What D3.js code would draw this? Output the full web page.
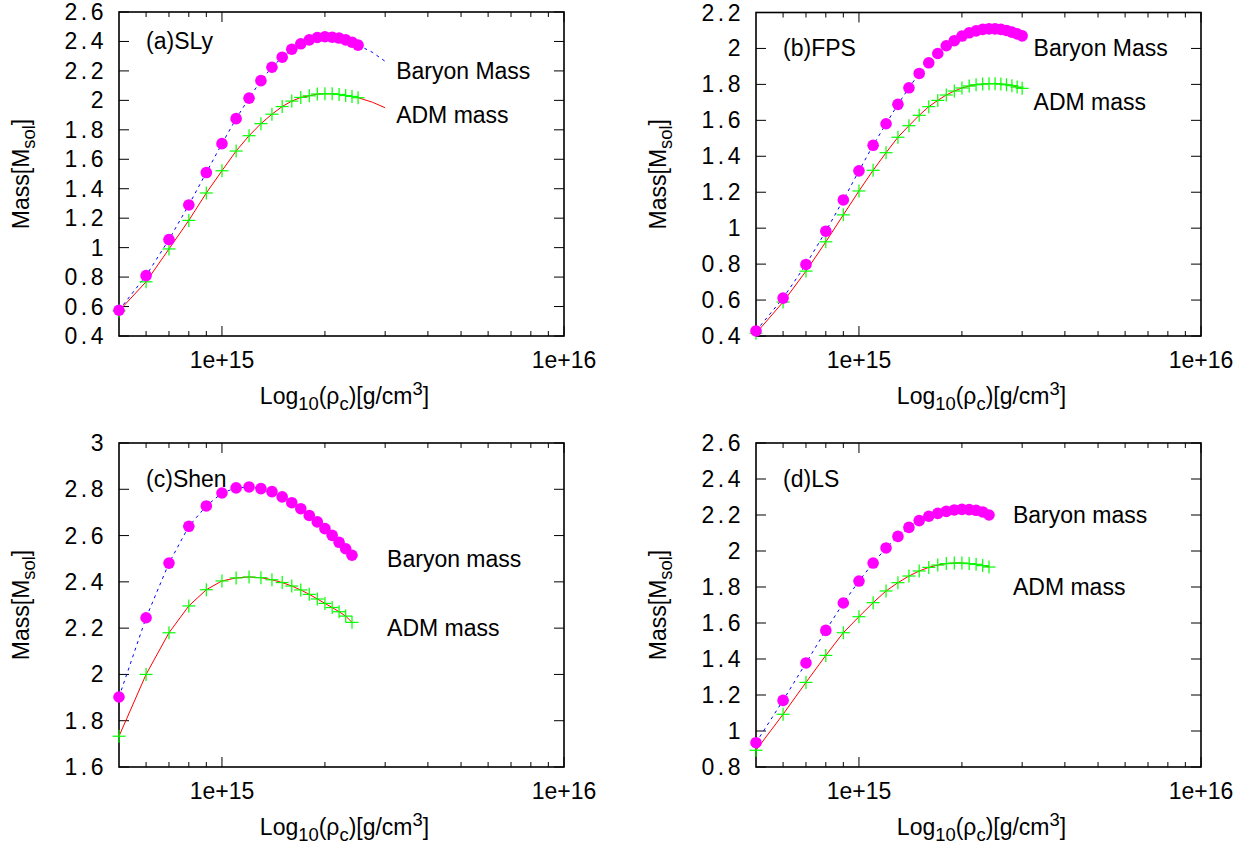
<!DOCTYPE html>
<html><head><meta charset="utf-8">
<script src="https://cdn.jsdelivr.net/npm/d3@7"></script>
<style>
body{margin:0;background:#fff}
svg{display:block}
text{font-family:"Liberation Sans",Arial,Helvetica,sans-serif;fill:#000}
</style>
</head><body>
<svg id="chart" width="1248" height="848"></svg>
<script>
// ---- data (central density in g/cm^3, masses in solar masses) ----
const rhoSLy = [5e14,6e14,7e14,8e14,9e14,1.0e15,1.1e15,1.2e15,1.3e15,1.4e15,1.5e15,1.6e15,1.7e15,1.8e15,1.9e15,2.0e15,2.1e15,2.2e15,2.3e15,2.4e15,2.5e15];
const baryonSLy = [0.575,0.81,1.055,1.29,1.51,1.706,1.876,2.015,2.134,2.225,2.293,2.347,2.384,2.411,2.427,2.432,2.429,2.423,2.411,2.395,2.375];
const admSLy = [0.57,0.768,0.991,1.185,1.371,1.522,1.656,1.76,1.842,1.906,1.958,1.995,2.02,2.031,2.043,2.045,2.045,2.04,2.033,2.027,2.018];
const rhoSLyTail = [2.75e15,3.0e15];
const baryonSLyTail = [2.327,2.265];
const admSLyTail = [1.988,1.95];

const rhoFPS = [5e14,6e14,7e14,8e14,9e14,1.0e15,1.1e15,1.2e15,1.3e15,1.4e15,1.5e15,1.6e15,1.7e15,1.8e15,1.9e15,2.0e15,2.1e15,2.2e15,2.3e15,2.4e15,2.5e15,2.6e15,2.7e15,2.8e15,2.9e15,3.0e15];
const baryonFPS = [0.428,0.611,0.798,0.983,1.157,1.319,1.461,1.581,1.689,1.781,1.861,1.92,1.972,2.015,2.043,2.069,2.087,2.098,2.106,2.109,2.109,2.106,2.1,2.091,2.081,2.07];
const admFPS = [0.415,0.589,0.761,0.924,1.074,1.207,1.322,1.42,1.506,1.57,1.628,1.676,1.711,1.741,1.763,1.78,1.791,1.798,1.802,1.804,1.804,1.802,1.798,1.793,1.785,1.778];

const rhoShen = [5e14,6e14,7e14,8e14,9e14,1.0e15,1.1e15,1.2e15,1.3e15,1.4e15,1.5e15,1.6e15,1.7e15,1.8e15,1.9e15,2.0e15,2.1e15,2.2e15,2.3e15,2.4e15];
const baryonShen = [1.9025,2.245,2.481,2.64,2.728,2.784,2.806,2.81,2.803,2.79,2.767,2.742,2.716,2.687,2.659,2.63,2.601,2.571,2.543,2.515];
const admShen = [1.733,2.0,2.18,2.296,2.366,2.404,2.417,2.421,2.418,2.409,2.397,2.382,2.365,2.346,2.326,2.307,2.289,2.271,2.252,2.225];

const rhoLS = [5e14,6e14,7e14,8e14,9e14,1.0e15,1.1e15,1.2e15,1.3e15,1.4e15,1.5e15,1.6e15,1.7e15,1.8e15,1.9e15,2.0e15,2.1e15,2.2e15,2.3e15,2.4e15];
const baryonLS = [0.935,1.17,1.378,1.559,1.711,1.833,1.933,2.017,2.081,2.131,2.169,2.193,2.209,2.22,2.228,2.231,2.23,2.226,2.217,2.2];
const admLS = [0.893,1.093,1.27,1.42,1.546,1.635,1.713,1.778,1.824,1.861,1.889,1.909,1.922,1.93,1.933,1.933,1.93,1.926,1.919,1.911];

// ---- tick values / labels ----
const xMajorTicks = [1e15,1e16];
const xMajorLabels = ["1e+15","1e+16"];
const xMinorTicks = [6e14,7e14,8e14,9e14,2e15,3e15,4e15,5e15,6e15,7e15,8e15,9e15];
const yTicksA = [0.4,0.6,0.8,1,1.2,1.4,1.6,1.8,2,2.2,2.4,2.6];
const yTicksB = [0.4,0.6,0.8,1,1.2,1.4,1.6,1.8,2,2.2];
const yTicksC = [1.6,1.8,2,2.2,2.4,2.6,2.8,3];
const yTicksD = [0.8,1,1.2,1.4,1.6,1.8,2,2.2,2.4,2.6];

const panelNames = ["(a)SLy","(b)FPS","(c)Shen","(d)LS"];
const baryonLabels = ["Baryon Mass","Baryon Mass","Baryon mass","Baryon mass"];
const admLabels = ["ADM mass","ADM mass","ADM mass","ADM mass"];

// ---- panel configuration ----
const FS = 23;
const panels = [
  {box:[119,12,564,336], yDom:[0.4,2.6], yTicks:yTicksA, rho:rhoSLy, bar:baryonSLy, adm:admSLy,
   tail:{rho:rhoSLyTail, bar:baryonSLyTail, adm:admSLyTail},
   name:panelNames[0], nameAt:[6e14,2.4], bl:baryonLabels[0], blAt:[3.23e15,2.2], al:admLabels[0], alAt:[3.23e15,1.9]},
  {box:[756,12.5,1201,336], yDom:[0.4,2.2], yTicks:yTicksB, rho:rhoFPS, bar:baryonFPS, adm:admFPS, tail:null,
   name:panelNames[1], nameAt:[6e14,2.0], bl:baryonLabels[1], blAt:[3.24e15,2.0], al:admLabels[1], alAt:[3.24e15,1.7]},
  {box:[119,443,564,767], yDom:[1.6,3.0], yTicks:yTicksC, rho:rhoShen, bar:baryonShen, adm:admShen, tail:null,
   name:panelNames[2], nameAt:[6e14,2.843], bl:baryonLabels[2], blAt:[3.04e15,2.5], al:admLabels[2], alAt:[3.04e15,2.2]},
  {box:[756,443,1201,767], yDom:[0.8,2.6], yTicks:yTicksD, rho:rhoLS, bar:baryonLS, adm:admLS, tail:null,
   name:panelNames[3], nameAt:[6e14,2.4], bl:baryonLabels[3], blAt:[2.82e15,2.2], al:admLabels[3], alAt:[2.82e15,1.8]}
];

const svg = d3.select("#chart");

panels.forEach(p => {
  const [x0,y0,x1,y1] = p.box;
  const x = d3.scaleLog().domain([5e14,1e16]).range([x0,x1]);
  const y = d3.scaleLinear().domain(p.yDom).range([y1,y0]);
  const g = svg.append("g");

  // ticks (inward, mirrored)
  const tk = g.append("g").attr("stroke","#000").attr("stroke-width",1);
  xMajorTicks.forEach(v => {
    tk.append("line").attr("x1",x(v)).attr("x2",x(v)).attr("y1",y1).attr("y2",y1-10);
    tk.append("line").attr("x1",x(v)).attr("x2",x(v)).attr("y1",y0).attr("y2",y0+10);
  });
  xMinorTicks.forEach(v => {
    tk.append("line").attr("x1",x(v)).attr("x2",x(v)).attr("y1",y1).attr("y2",y1-5);
    tk.append("line").attr("x1",x(v)).attr("x2",x(v)).attr("y1",y0).attr("y2",y0+5);
  });
  p.yTicks.forEach(v => {
    tk.append("line").attr("x1",x0).attr("x2",x0+10).attr("y1",y(v)).attr("y2",y(v));
    tk.append("line").attr("x1",x1).attr("x2",x1-10).attr("y1",y(v)).attr("y2",y(v));
  });

  // frame
  g.append("rect").attr("x",x0).attr("y",y0).attr("width",x1-x0).attr("height",y1-y0)
    .attr("fill","none").attr("stroke","#000").attr("stroke-width",1.6);

  // y tick labels (wide decimal point, as in the original)
  p.yTicks.forEach(v => {
    const s = String(v);
    const t = g.append("text").attr("x",x0-15.5).attr("y",y(v)+8).attr("text-anchor","end")
      .attr("font-size",FS);
    const parts = s.split(".");
    if (parts.length === 1) { t.text(s); }
    else {
      t.append("tspan").text(parts[0]);
      t.append("tspan").attr("dx",3.5).text(".");
      t.append("tspan").attr("dx",3.5).text(parts[1]);
    }
  });
  xMajorTicks.forEach((v,i) => {
    g.append("text").attr("x",x(v)).attr("y",y1+31.6).attr("text-anchor","middle")
      .attr("font-size",FS).text(xMajorLabels[i]);
  });

  // axis titles
  const xt = g.append("text").attr("x",(x0+x1)/2+3).attr("y",y1+67.5).attr("text-anchor","middle").attr("font-size",FS);
  xt.append("tspan").text("Log");
  xt.append("tspan").attr("dy",6).attr("font-size",FS*0.8).text("10");
  xt.append("tspan").attr("dy",-6).text("(ρ");
  xt.append("tspan").attr("dy",6).attr("font-size",FS*0.8).text("c");
  xt.append("tspan").attr("dy",-6).text(")[g/cm");
  xt.append("tspan").attr("dy",-9).attr("font-size",FS*0.8).text("3");
  xt.append("tspan").attr("dy",9).text("]");

  const cy = (y0+y1)/2, cx = x0-90;
  const yt = g.append("text").attr("transform",`translate(${cx},${cy}) rotate(-90)`)
    .attr("text-anchor","middle").attr("font-size",FS);
  yt.append("tspan").text("Mass[M");
  yt.append("tspan").attr("dy",6).attr("font-size",FS*0.8).text("sol");
  yt.append("tspan").attr("dy",-6).text("]");

  // data lines
  const barPts = p.rho.map((r,i)=>[r,p.bar[i]]);
  const admPts = p.rho.map((r,i)=>[r,p.adm[i]]);
  let barLine = barPts.slice(), admLine = admPts.slice();
  if (p.tail) {
    p.tail.rho.forEach((r,i)=>{ barLine.push([r,p.tail.bar[i]]); admLine.push([r,p.tail.adm[i]]); });
  }
  const line = d3.line().x(d=>x(d[0])).y(d=>y(d[1]));
  g.append("path").attr("d",line(barLine)).attr("fill","none").attr("stroke","#0000ff")
    .attr("stroke-width",1).attr("stroke-dasharray","3,4");
  g.append("path").attr("d",line(admLine)).attr("fill","none").attr("stroke","#ff0000")
    .attr("stroke-width",1);

  // ADM plus markers
  const pl = g.append("g").attr("stroke","#00ff00").attr("stroke-width",1.2);
  admPts.forEach(d => {
    const px = x(d[0]), py = y(d[1]);
    pl.append("line").attr("x1",px-6.5).attr("x2",px+6.5).attr("y1",py).attr("y2",py);
    pl.append("line").attr("x1",px).attr("x2",px).attr("y1",py-6.5).attr("y2",py+6.5);
  });
  // Baryon circles
  g.append("g").selectAll("circle").data(barPts).join("circle")
    .attr("cx",d=>x(d[0])).attr("cy",d=>y(d[1])).attr("r",5.8).attr("fill","#ff00ff");

  // labels
  g.append("text").attr("x",x(p.nameAt[0])).attr("y",y(p.nameAt[1])+8).attr("font-size",FS).text(p.name);
  g.append("text").attr("x",x(p.blAt[0])).attr("y",y(p.blAt[1])+8).attr("font-size",FS).text(p.bl);
  g.append("text").attr("x",x(p.alAt[0])).attr("y",y(p.alAt[1])+8).attr("font-size",FS).text(p.al);
});
</script>
</body></html>
